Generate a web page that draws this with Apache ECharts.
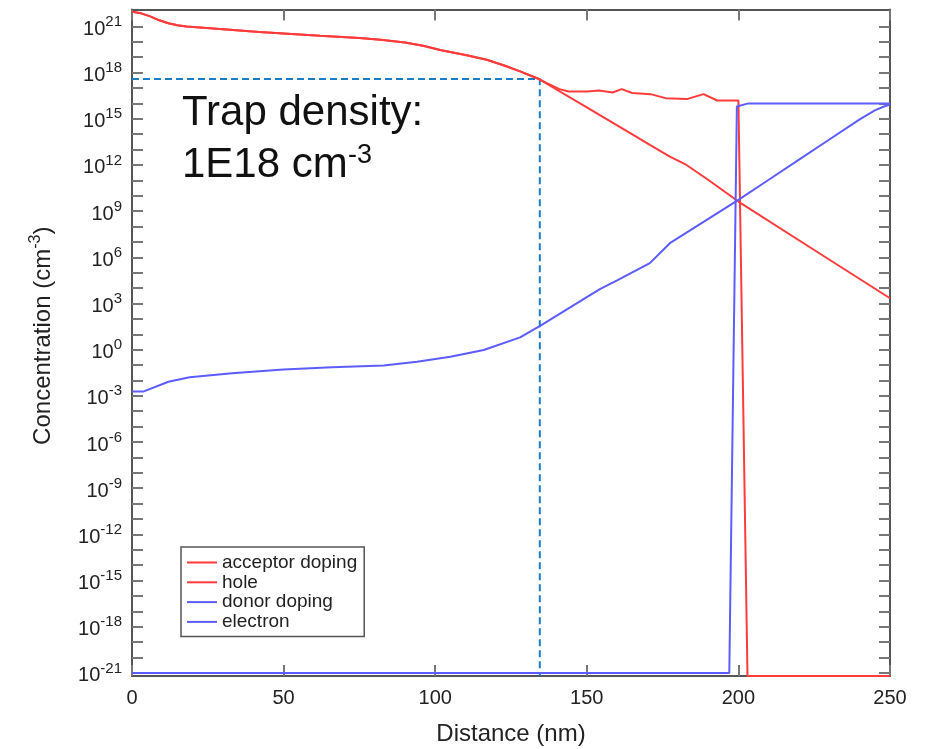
<!DOCTYPE html>
<html>
<head>
<meta charset="utf-8">
<script src="https://cdn.jsdelivr.net/npm/echarts@6/dist/echarts.min.js"></script>
<style>html,body{margin:0;padding:0;background:#fff;}#c{width:931px;height:749px;}</style>
</head>
<body>
<div id="c"></div>
<script>
// Distance (nm) / concentration (cm^-3)
const acceptorX = [0, 3, 6, 9, 12, 15, 18, 29, 42, 62, 75, 82, 90, 96, 102, 110, 117, 123, 128, 134, 137, 141, 144, 150, 154, 158.5, 161.5, 165, 171, 176, 183, 188.5, 193, 200, 203, 250];
const acceptorY = [8.9e21, 7.1e21, 4.5e21, 2.5e21, 1.6e21, 1.2e21, 1.0e21, 6.8e20, 4.4e20, 2.5e20, 1.8e20, 1.35e20, 8.9e19, 5.6e19, 2.8e19, 1.4e19, 6.8e18, 2.8e18, 1.2e18, 4.0e17, 2.0e17, 8.5e16, 5.9e16, 5.9e16, 6.9e16, 5.1e16, 8.5e16, 4.7e16, 4.0e16, 2.2e16, 1.9e16, 4.0e16, 1.55e16, 1.55e16, 6.3e-22, 6.3e-22];

const holeX = [0, 3, 6, 9, 12, 15, 18, 29, 42, 62, 75, 82, 90, 96, 102, 110, 117, 123, 128, 134, 150, 165.3, 170.8, 177.4, 182.9, 190, 200, 225, 250];
const holeY = [8.9e21, 7.1e21, 4.5e21, 2.5e21, 1.6e21, 1.2e21, 1.0e21, 6.8e20, 4.4e20, 2.5e20, 1.8e20, 1.35e20, 8.9e19, 5.6e19, 2.8e19, 1.4e19, 6.8e18, 2.8e18, 1.2e18, 4.0e17, 5.6e15, 9.1e13, 2.0e13, 3.5e12, 1.0e12, 1.1e11, 4.2e9, 3.0e6, 2.2e3];

const donorX = [0, 197, 199.5, 203.3, 250];
const donorY = [1e-21, 1e-21, 6.3e15, 1e16, 1e16];

const electronX = [0, 3.7, 12, 19, 33, 50, 66, 83, 94, 105, 116, 128, 134.6, 154.3, 160, 170.8, 177.4, 200, 210, 220, 230, 240, 245, 248, 250];
const electronY = [1.9e-3, 1.9e-3, 8.3e-3, 1.6e-2, 2.9e-2, 5.2e-2, 7.1e-2, 9.5e-2, 0.166, 0.35, 0.95, 6.3, 35, 8.5e3, 3.2e4, 4.2e5, 8.3e6, 5.4e9, 1.1e11, 2.2e12, 4.5e13, 9.1e14, 3.5e15, 6.3e15, 8.3e15];

const trapX = [0, 134.5, 134.5];
const trapY = [3.8e17, 3.8e17, 6.3e-22];

const seriesNames = ['acceptor doping', 'hole', 'donor doping', 'electron'];
const xTicks = [0, 50, 100, 150, 200, 250];
const yTickValues = [1e-21,1e-20,1e-19,1e-18,1e-17,1e-16,1e-15,1e-14,1e-13,1e-12,1e-11,1e-10,1e-9,1e-8,1e-7,1e-6,1e-5,1e-4,1e-3,1e-2,1e-1,1,1e1,1e2,1e3,1e4,1e5,1e6,1e7,1e8,1e9,1e10,1e11,1e12,1e13,1e14,1e15,1e16,1e17,1e18,1e19,1e20,1e21];
const yLabelValues = [1e-21,1e-18,1e-15,1e-12,1e-9,1e-6,1e-3,1,1e3,1e6,1e9,1e12,1e15,1e18,1e21];
const yMin = 6.3e-22, yMax = 1.26e22;

const FONT = '"Liberation Sans", Arial, Helvetica, sans-serif';
const RED = '#ff3b3b', BLUE = '#5c5cff';

function pairs(xs, ys) { return xs.map((x, i) => [x, ys[i]]); }

const chart = echarts.init(document.getElementById('c'), null, {renderer: 'canvas'});

const axisLineStyle = {color: '#555', width: 2};
const tickStyle = {color: '#777', width: 2};

const yLabelRich = {
  b: {fontSize: 20, lineHeight: 24, padding: [6, 0, 0, 0], color: '#222', fontFamily: FONT},
  s: {fontSize: 15, lineHeight: 16, verticalAlign: 'top', color: '#222', fontFamily: FONT}
};

function yFmt(v) {
  const e = Math.round(Math.log10(v));
  return '{b|10}{s|' + e + '}';
}

const lineSeries = (name, xs, ys, color) => ({
  name: name, type: 'line', data: pairs(xs, ys), symbol: 'none', showSymbol: false,
  lineStyle: {color: color, width: 2}, itemStyle: {color: color},
  emphasis: {disabled: true}, animation: false, z: 3
});

chart.setOption({
  animation: false,
  backgroundColor: '#fff',
  textStyle: {fontFamily: FONT},
  grid: {left: 132, right: 41, top: 9.5, bottom: 73, containLabel: false, outerBoundsMode: 'none'},
  legend: {
    data: seriesNames, orient: 'vertical', left: 181, top: 547,
    backgroundColor: '#fff', borderColor: '#555', borderWidth: 1.5, borderRadius: 0,
    padding: [6, 7, 5, 6], itemWidth: 30, itemHeight: 2, itemGap: 0.8, icon: 'rect',
    textStyle: {fontSize: 19, color: '#222', fontFamily: FONT, lineHeight: 18},
    selectedMode: false
  },
  xAxis: [
    {
      type: 'value', min: 0, max: 250, interval: 50, position: 'bottom',
      axisLine: {show: true, onZero: false, lineStyle: axisLineStyle},
      axisTick: {show: true, inside: true, length: 11, lineStyle: tickStyle},
      axisLabel: {fontSize: 20, color: '#222', margin: 12, fontFamily: FONT},
      splitLine: {show: false},
      name: 'Distance (nm)', nameLocation: 'middle', nameGap: 46,
      nameTextStyle: {fontSize: 24, color: '#222', fontFamily: FONT}
    },
    {
      type: 'value', min: 0, max: 250, interval: 50, position: 'top',
      axisLine: {show: true, onZero: false, lineStyle: axisLineStyle},
      axisTick: {show: true, inside: true, length: 11, lineStyle: tickStyle},
      axisLabel: {show: false}, splitLine: {show: false}
    }
  ],
  yAxis: [
    {
      type: 'log', logBase: 10, min: yMin, max: yMax, position: 'left',
      axisLine: {show: true, onZero: false, lineStyle: axisLineStyle},
      axisTick: {show: true, inside: true, length: 11, lineStyle: tickStyle, customValues: yTickValues},
      axisLabel: {show: true, margin: 10, customValues: yLabelValues, formatter: yFmt, rich: yLabelRich},
      minorTick: {show: false}, splitLine: {show: false},
      name: '{a|Concentration (cm}{s|-3}{a|)}', nameLocation: 'middle', nameGap: 80, nameRotate: 90,
      nameTextStyle: {
        padding: [0, 0, 0, 14],
        rich: {
          a: {fontSize: 24, lineHeight: 24, padding: [6, 0, 0, 0], color: '#222', fontFamily: FONT},
          s: {fontSize: 16, lineHeight: 16, verticalAlign: 'top', color: '#222', fontFamily: FONT}
        }
      }
    },
    {
      type: 'log', logBase: 10, min: yMin, max: yMax, position: 'right',
      axisLine: {show: true, onZero: false, lineStyle: axisLineStyle},
      axisTick: {show: true, inside: true, length: 11, lineStyle: tickStyle, customValues: yTickValues},
      axisLabel: {show: false}, minorTick: {show: false}, splitLine: {show: false}
    }
  ],
  series: [
    lineSeries(seriesNames[0], acceptorX, acceptorY, RED),
    lineSeries(seriesNames[1], holeX, holeY, RED),
    lineSeries(seriesNames[2], donorX, donorY, BLUE),
    lineSeries(seriesNames[3], electronX, electronY, BLUE),
    {
      name: 'trap', type: 'line', data: pairs(trapX, trapY), symbol: 'none', silent: true,
      lineStyle: {color: '#1a7dc8', width: 2, type: [7, 4]}, z: 2, animation: false
    }
  ],
  graphic: [
    {type: 'text', x: 182, y: 113, style: {text: 'Trap density:', fontSize: 42, fontFamily: FONT, fill: '#111', verticalAlign: 'middle'}},
    {type: 'text', x: 182, y: 165, style: {text: '1E18 cm', fontSize: 42, fontFamily: FONT, fill: '#111', verticalAlign: 'middle'}},
    {type: 'text', x: 348, y: 156, style: {text: '-3', fontSize: 27, fontFamily: FONT, fill: '#111', verticalAlign: 'middle'}}
  ]
});
</script>
</body>
</html>
